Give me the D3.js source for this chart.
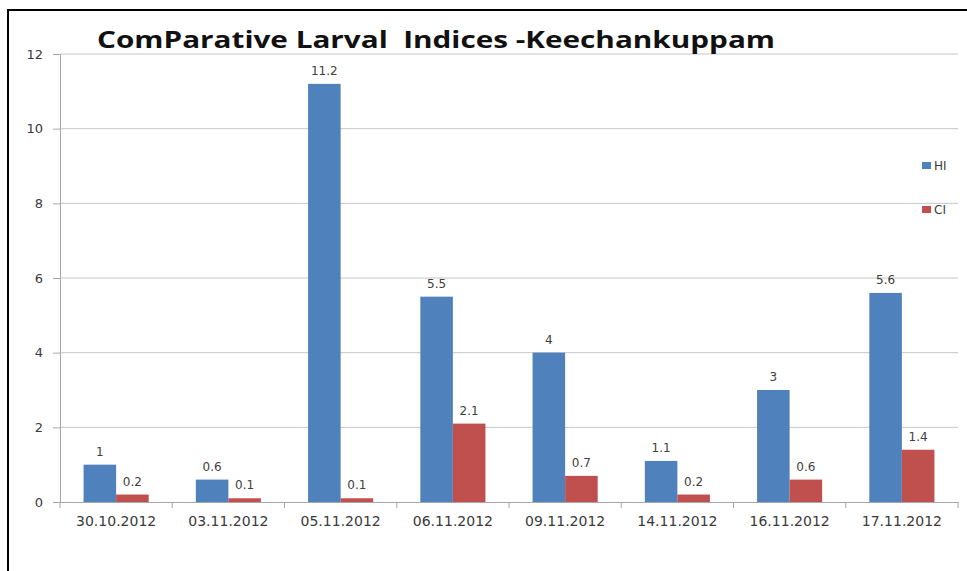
<!DOCTYPE html>
<html>
<head>
<meta charset="utf-8">
<script src="https://cdnjs.cloudflare.com/ajax/libs/d3/7.8.5/d3.min.js"></script>
<style>
  body { margin: 0; background: #fff; }
  svg { display: block; font-family: "DejaVu Sans", sans-serif; }
</style>
</head>
<body>
<div id="chart"></div>
<script>
var dates = ["30.10.2012", "03.11.2012", "05.11.2012", "06.11.2012", "09.11.2012", "14.11.2012", "16.11.2012", "17.11.2012"];
var hiValues = [1, 0.6, 11.2, 5.5, 4, 1.1, 3, 5.6];
var ciValues = [0.2, 0.1, 0.1, 2.1, 0.7, 0.2, 0.6, 1.4];
var seriesNames = ["HI", "CI"];
var yTicks = [0, 2, 4, 6, 8, 10, 12];

var width = 967, height = 571;
var colors = { HI: "#4f81bd", CI: "#c0504d" };

var svg = d3.select("#chart").append("svg")
  .attr("width", width)
  .attr("height", height);

// outer frame (clipped on right and bottom in the original)
svg.append("rect")
  .attr("x", 8).attr("y", 10)
  .attr("width", 980).attr("height", 600)
  .attr("fill", "none")
  .attr("stroke", "#000")
  .attr("stroke-width", 2);

var plotLeft = 60, plotRight = 958, plotTop = 54, plotBottom = 502;

var x = d3.scaleBand()
  .domain(dates)
  .range([plotLeft, plotRight]);

var xInner = d3.scaleBand()
  .domain(seriesNames)
  .range([x.bandwidth() * 0.21, x.bandwidth() * 0.79]);

var y = d3.scaleLinear()
  .domain([0, 12])
  .range([plotBottom, plotTop]);

// gridlines
svg.append("g")
  .selectAll("line")
  .data(yTicks.filter(function (d) { return d > 0; }))
  .enter().append("line")
  .attr("x1", plotLeft)
  .attr("x2", plotRight)
  .attr("y1", function (d) { return y(d); })
  .attr("y2", function (d) { return y(d); })
  .attr("stroke", "#c6c6c6")
  .attr("stroke-width", 1);

// y axis
var yAxis = svg.append("g")
  .attr("transform", "translate(" + plotLeft + ",0)")
  .call(d3.axisLeft(y).tickValues(yTicks).tickSize(7).tickPadding(10));
yAxis.select("path").attr("stroke", "#a6a6a6");
yAxis.selectAll("line").attr("stroke", "#a6a6a6");
yAxis.selectAll("text").attr("font-size", 13).attr("fill", "#3a3a3a")
  .attr("font-family", "'DejaVu Sans', sans-serif");

// x axis
var xAxis = svg.append("g")
  .attr("transform", "translate(0," + plotBottom + ")")
  .call(d3.axisBottom(x).tickSize(0).tickPadding(14));
xAxis.select("path").attr("stroke", "#a6a6a6");
xAxis.selectAll("text").attr("font-size", 14).attr("fill", "#3a3a3a")
  .attr("font-family", "'DejaVu Sans', sans-serif");
// category separators
xAxis.selectAll(".sep")
  .data(d3.range(dates.length + 1))
  .enter().append("line")
  .attr("class", "sep")
  .attr("x1", function (i) { return plotLeft + i * x.step(); })
  .attr("x2", function (i) { return plotLeft + i * x.step(); })
  .attr("y1", 0).attr("y2", 6)
  .attr("stroke", "#a6a6a6");

var rows = dates.map(function (d, i) {
  return { date: d, HI: hiValues[i], CI: ciValues[i] };
});

var groups = svg.append("g").selectAll("g")
  .data(rows)
  .enter().append("g")
  .attr("transform", function (d) { return "translate(" + x(d.date) + ",0)"; });

groups.selectAll("rect")
  .data(function (d) { return seriesNames.map(function (s) { return { key: s, value: d[s] }; }); })
  .enter().append("rect")
  .attr("x", function (d) { return xInner(d.key); })
  .attr("width", xInner.bandwidth())
  .attr("y", function (d) { return y(d.value); })
  .attr("height", function (d) { return y(0) - y(d.value); })
  .attr("fill", function (d) { return colors[d.key]; });

groups.selectAll("text")
  .data(function (d) { return seriesNames.map(function (s) { return { key: s, value: d[s] }; }); })
  .enter().append("text")
  .attr("x", function (d) { return xInner(d.key) + xInner.bandwidth() / 2; })
  .attr("y", function (d) { return y(d.value) - 9; })
  .attr("text-anchor", "middle")
  .attr("font-size", 12)
  .attr("fill", "#404040")
  .text(function (d) { return d.value; });

// title
svg.append("text")
  .attr("x", 97)
  .attr("y", 48)
  .attr("font-size", 23)
  .attr("font-weight", "bold")
  .attr("font-family", "'Open Sans', sans-serif")
  .attr("fill", "#111")
  .attr("xml:space", "preserve")
  .attr("textLength", 678)
  .attr("lengthAdjust", "spacingAndGlyphs")
  .text("ComParative Larval  Indices -Keechankuppam");

// legend
var legend = svg.append("g").selectAll("g")
  .data(seriesNames)
  .enter().append("g")
  .attr("transform", function (d, i) { return "translate(922," + (166 + i * 44) + ")"; });
legend.append("rect")
  .attr("x", 0).attr("y", -4)
  .attr("width", 9).attr("height", 7)
  .attr("fill", function (d) { return colors[d]; });
legend.append("text")
  .attr("x", 12).attr("y", 4)
  .attr("font-size", 12)
  .attr("fill", "#3a3a3a")
  .text(function (d) { return d; });
</script>
</body>
</html>
